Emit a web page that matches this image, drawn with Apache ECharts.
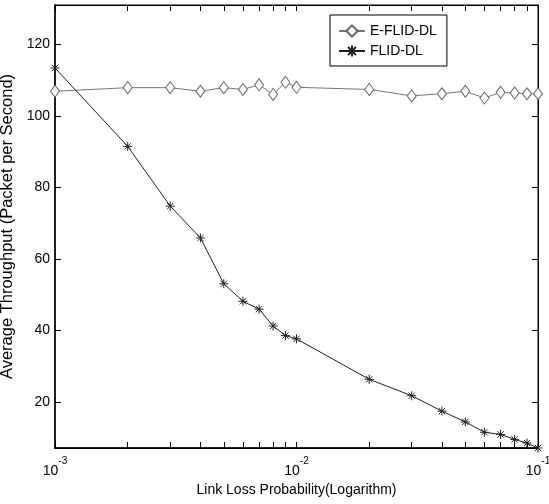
<!DOCTYPE html>
<html>
<head>
<meta charset="utf-8">
<script src="https://cdn.jsdelivr.net/npm/echarts@6/dist/echarts.min.js"></script>
<style>
  html, body { margin: 0; padding: 0; background: #fff; }
  #chartContainer { width: 549px; height: 504px; }
</style>
</head>
<body>
<div id="chartContainer"></div>
<script>
// link loss probability (x) and throughput of both schemes
const lossProb = [0.001, 0.002, 0.003, 0.004, 0.005, 0.006, 0.007, 0.008, 0.009, 0.01,
                  0.02, 0.03, 0.04, 0.05, 0.06, 0.07, 0.08, 0.09, 0.1];
const eflidDL = [106.9, 107.9, 107.9, 106.9, 107.9, 107.4, 108.7, 106.0, 109.4, 108.0,
                 107.4, 105.6, 106.2, 106.9, 105.0, 106.6, 106.4, 106.2, 106.2];
const flidDL = [113.4, 91.5, 74.8, 65.9, 53.1, 48.2, 46.0, 41.3, 38.6, 37.7,
                26.4, 21.8, 17.5, 14.5, 11.6, 11.0, 9.6, 8.6, 7.2];
const yTicks = [20, 40, 60, 80, 100, 120];
const xMajor = [0.001, 0.01, 0.1];
const xMinor = [0.002, 0.003, 0.004, 0.005, 0.006, 0.007, 0.008, 0.009,
                0.02, 0.03, 0.04, 0.05, 0.06, 0.07, 0.08, 0.09];

const FONT = '"Liberation Sans", Arial, sans-serif';
const yMin = 7.2, yMax = 131;
const TICK = { color: '#000', width: 1 };

var myChart = echarts.init(document.getElementById('chartContainer'), null, { renderer: 'canvas' });

function pairs(xs, ys) {
    return xs.map((x, i) => [x, ys[i]]);
}

// tick positions for the decoration axes, in log10 space
const logTicks = xMajor.concat(xMinor).map(v => Math.log10(v));

const asterisk = 'path://M0,5L10,5M5,0L5,10M1.5,1.5L8.5,8.5M8.5,1.5L1.5,8.5';

function tickAxis(pos) {
    return {
        type: 'value', min: -3, max: -1, position: pos,
        axisLine: { show: true, onZero: false, lineStyle: { color: '#000', width: 1 } },
        axisLabel: { show: false },
        splitLine: { show: false },
        axisTick: { show: true, inside: true, length: 6, customValues: logTicks, lineStyle: TICK }
    };
}

let options = {
    animation: false,
    backgroundColor: '#fff',
    textStyle: { fontFamily: FONT },
    grid: {
        left: 55, right: 11, top: 5, bottom: 56,
        outerBoundsMode: 'none',
        show: true, borderColor: '#000', borderWidth: 1
    },
    legend: {
        orient: 'vertical',
        left: 330, top: 15,
        padding: [9, 10, 8, 8],
        itemGap: 6,
        itemWidth: 26,
        itemHeight: 14,
        borderColor: '#000',
        borderWidth: 1,
        backgroundColor: '#fff',
        textStyle: { fontFamily: FONT, fontSize: 14, color: '#000', width: 80 },
        data: ['E-FLID-DL', 'FLID-DL']
    },
    xAxis: [{
        type: 'log',
        logBase: 10,
        min: 0.001, max: 0.1,
        name: 'Link Loss Probability(Logarithm)',
        nameLocation: 'middle',
        nameGap: 34,
        nameTextStyle: { fontFamily: FONT, fontSize: 14, color: '#000' },
        axisLine: { show: true, onZero: false, lineStyle: { color: '#000', width: 1.5 } },
        axisTick: { show: false },
        splitLine: { show: false },
        axisLabel: {
            margin: 8,
            formatter: v => '{b|10}{s|' + Math.round(Math.log10(v)) + '}',
            rich: {
                b: { fontFamily: FONT, fontSize: 14, color: '#000', verticalAlign: 'bottom', lineHeight: 22 },
                s: { fontFamily: FONT, fontSize: 10, color: '#000', verticalAlign: 'top', lineHeight: 22 }
            }
        }
    }, tickAxis('bottom'), tickAxis('top')],
    yAxis: [{
        type: 'value',
        min: yMin, max: yMax,
        name: 'Average Throughput (Packet per Second)',
        nameLocation: 'middle',
        nameGap: 33,
        nameTextStyle: { fontFamily: FONT, fontSize: 16.5, color: '#000' },
        axisLine: { show: true, onZero: false, lineStyle: { color: '#000', width: 1.5 } },
        splitLine: { show: false },
        axisTick: { show: true, inside: true, length: 6, customValues: yTicks, lineStyle: TICK },
        axisLabel: { customValues: yTicks, fontFamily: FONT, fontSize: 14, color: '#000', margin: 5 }
    }, {
        type: 'value',
        min: yMin, max: yMax, position: 'right',
        axisLine: { show: true, onZero: false, lineStyle: { color: '#000', width: 1 } },
        splitLine: { show: false },
        axisLabel: { show: false },
        axisTick: { show: true, inside: true, length: 6, customValues: yTicks, lineStyle: TICK }
    }],
    series: [{
        name: 'E-FLID-DL',
        type: 'line',
        xAxisIndex: 0, yAxisIndex: 0,
        data: pairs(lossProb, eflidDL),
        clip: false,
        symbol: 'diamond',
        symbolSize: [9, 12],
        itemStyle: { color: '#fff', borderColor: '#666', borderWidth: 1 },
        lineStyle: { color: '#777', width: 1 },
        z: 2
    }, {
        name: 'FLID-DL',
        type: 'line',
        xAxisIndex: 0, yAxisIndex: 0,
        data: pairs(lossProb, flidDL),
        clip: false,
        symbol: asterisk,
        symbolSize: 9,
        itemStyle: { color: '#222', borderColor: '#222', borderWidth: 1 },
        lineStyle: { color: '#222', width: 1 },
        z: 3
    }]
};

myChart.setOption(options);
</script>
</body>
</html>
